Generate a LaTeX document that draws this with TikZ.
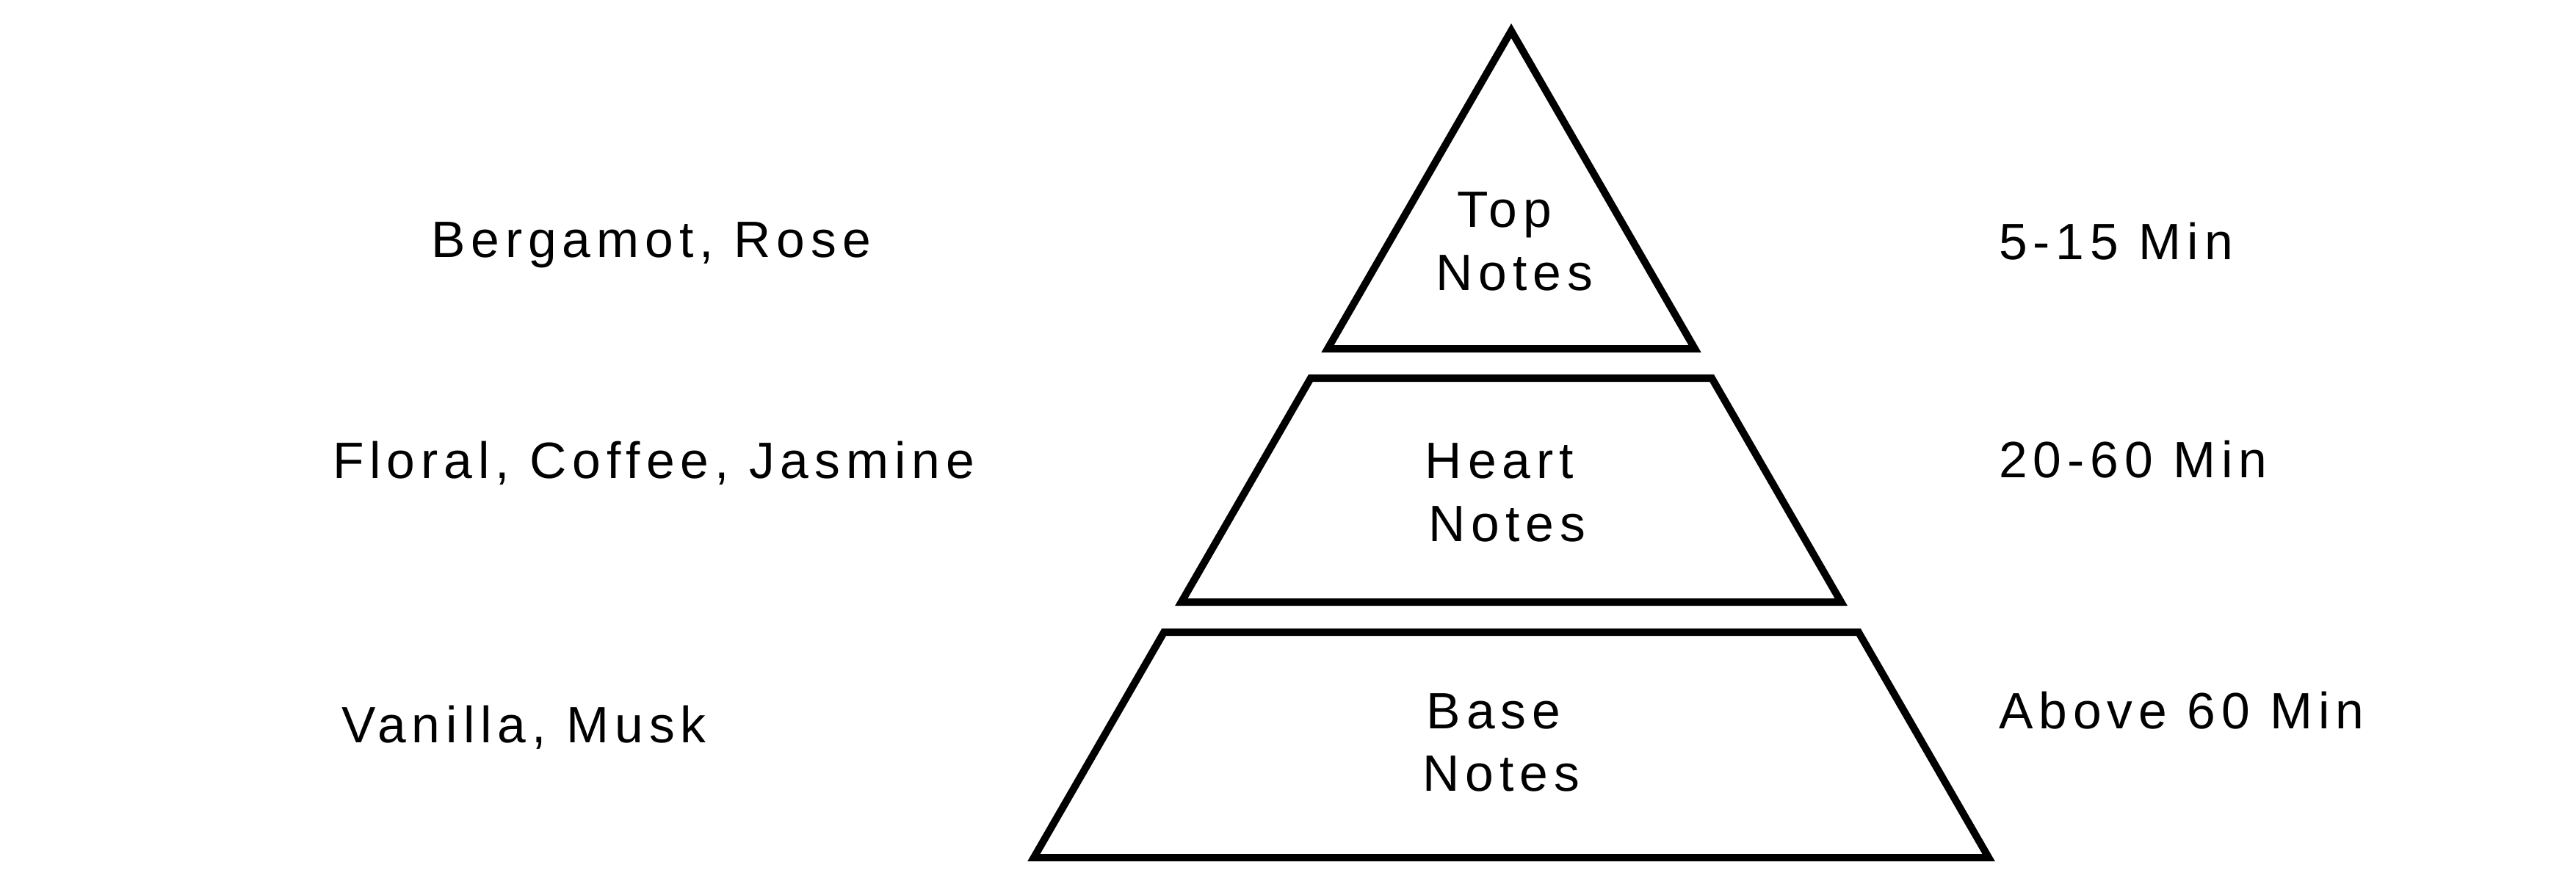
\documentclass[tikz,border=0pt]{standalone}
\usepackage{fontspec}
\setmainfont{Liberation Sans}[LetterSpace=11.5]
\begin{document}
\begin{tikzpicture}[line width=1mm,
  every node/.style={inner sep=0pt, font=\fontsize{19.8}{24.5}\selectfont}]
  \useasboundingbox (0,0) rectangle (35.08,12.03);
  % pyramid corners
  \coordinate (t1) at (20.58,11.61);
  \coordinate (t2) at (18.08,7.28);
  \coordinate (t3) at (23.08,7.28);
  \coordinate (h1) at (17.849,6.88);
  \coordinate (h2) at (23.311,6.88);
  \coordinate (h3) at (25.072,3.83);
  \coordinate (h4) at (16.088,3.83);
  \coordinate (b1) at (15.851,3.42);
  \coordinate (b2) at (25.309,3.42);
  \coordinate (b3) at (27.081,0.35);
  \coordinate (b4) at (14.079,0.35);
  \draw (t1)--(t2)--(t3)--cycle;
  \draw (h1)--(h2)--(h3)--(h4)--cycle;
  \draw (b1)--(b2)--(b3)--(b4)--cycle;
  % layer names
  \node[anchor=base] (top1) at (20.49,8.93) {Top};
  \node[anchor=base] (top2) at (20.62,8.07) {Notes};
  \node[anchor=base] (heart1) at (20.42,5.52) {Heart};
  \node[anchor=base] (heart2) at (20.52,4.66) {Notes};
  \node[anchor=base] (base1) at (20.34,2.11) {Base};
  \node[anchor=base] (base2) at (20.44,1.26) {Notes};
  % ingredients
  \node[anchor=base west] (topmix) at (5.82,8.52) {Bergamot, Rose};
  \node[anchor=base west] (heartmix) at (4.48,5.515) {Floral, Coffee, Jasmine};
  \node[anchor=base west] (basemix) at (4.60,1.92) {Vanilla, Musk};
  % durations
  \node[anchor=base west] (toptime) at (27.17,8.49) {5-15 Min};
  \node[anchor=base west] (hearttime) at (27.17,5.53) {20-60 Min};
  \node[anchor=base west] (basetime) at (27.17,2.11) {Above 60 Min};
\end{tikzpicture}
\end{document}
